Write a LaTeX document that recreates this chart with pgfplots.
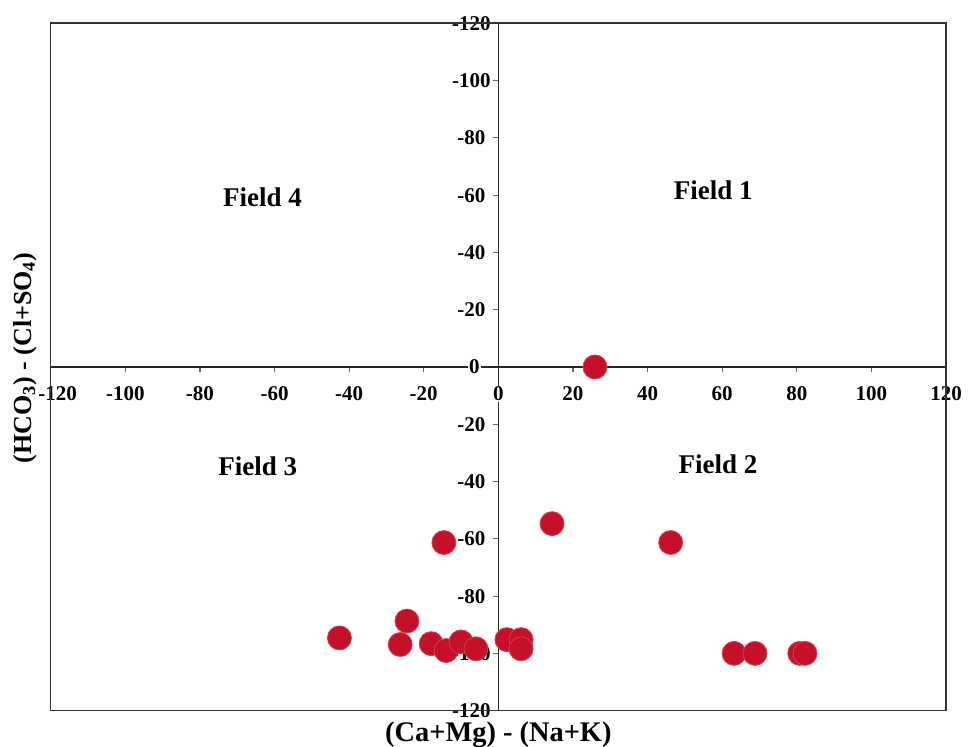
\documentclass[border=0pt]{standalone}
\usepackage{pgfplots}
\pgfplotsset{compat=1.18}
\usepackage{fontspec}
\setmainfont{Liberation Serif}
\definecolor{dotred}{RGB}{198,16,40}
\begin{document}
\begin{tikzpicture}
\begin{axis}[
  at={(0,0)}, anchor=south west,
  scale only axis, width=447.65pt, height=343.7pt,
  xmin=-120, xmax=120, ymin=-120, ymax=120,
  axis lines=middle,
  axis line style={-, line width=0.8pt, black!85},
  xtick={-120,-100,...,120},
  xticklabels={\hspace{7pt}-120,-100,-80,-60,-40,-20,0,20,40,60,80,100,120},
  ytick={-120,-100,...,120},
  yticklabels={-120,-100,-80,-60,-40,-20,0,-20,-40,-60,-80,-100,-120},
  tick align=outside,
  major tick length=2.5pt,
  tick style={black!60, line width=0.6pt},
  tick label style={font=\fontsize{10.5}{12}\selectfont\bfseries, fill=white, inner sep=0.5pt},
  xticklabel style={anchor=center, yshift=-11pt},
  yticklabel style={anchor=center, xshift=-11pt},
  xlabel={(Ca+Mg) - (Na+K)},
  ylabel={(HCO\textsubscript{3}) - (Cl+SO\textsubscript{4})},
  every axis x label/.style={at={(rel axis cs:0.5,0)}, anchor=center, yshift=-12pt, font=\fontsize{14.2}{16}\selectfont\bfseries},
  every axis y label/.style={at={(rel axis cs:0,0.513)}, anchor=center, xshift=-12.85pt, rotate=90, font=\fontsize{13}{15}\selectfont\bfseries},
  clip=false,
]
\draw[line width=0.8pt, black!80] (rel axis cs:0,0) rectangle (rel axis cs:1,1);
\addplot[only marks, mark=*, mark size=6pt, mark options={fill=dotred, draw=dotred!80}] coordinates {
(25.9,0)
(14.4,-54.7)
(-14.6,-61.3)
(46.2,-61.3)
(-24.5,-88.7)
(-42.6,-94.6)
(-26.3,-96.9)
(-18.0,-96.6)
(-14.0,-99.0)
(-10.0,-96.0)
(-6.0,-98.4)
(2.3,-95.2)
(6.1,-95.2)
(6.1,-98.4)
(63.2,-100)
(68.8,-100)
(80.8,-100)
(82.2,-100)
};
\node[font=\fontsize{10.5}{12}\selectfont\bfseries, fill=white, inner sep=0.5pt, xshift=-12pt] at (axis cs:0,0) {0};
\node[font=\fontsize{10.5}{12}\selectfont\bfseries, fill=white, inner sep=0.5pt, yshift=-13.5pt] at (axis cs:0,0) {0};
\node[font=\fontsize{13.5}{15}\selectfont\bfseries] at (axis cs:-63.2,59.3) {Field 4};
\node[font=\fontsize{13.5}{15}\selectfont\bfseries] at (axis cs:57.6,61.7) {Field 1};
\node[font=\fontsize{13.5}{15}\selectfont\bfseries] at (axis cs:-64.5,-34.7) {Field 3};
\node[font=\fontsize{13.5}{15}\selectfont\bfseries] at (axis cs:58.9,-34.0) {Field 2};
\end{axis}
\pgfresetboundingbox
\useasboundingbox (-25.35pt,-18.15pt) rectangle (459.65pt,355.35pt);
\end{tikzpicture}
\end{document}
